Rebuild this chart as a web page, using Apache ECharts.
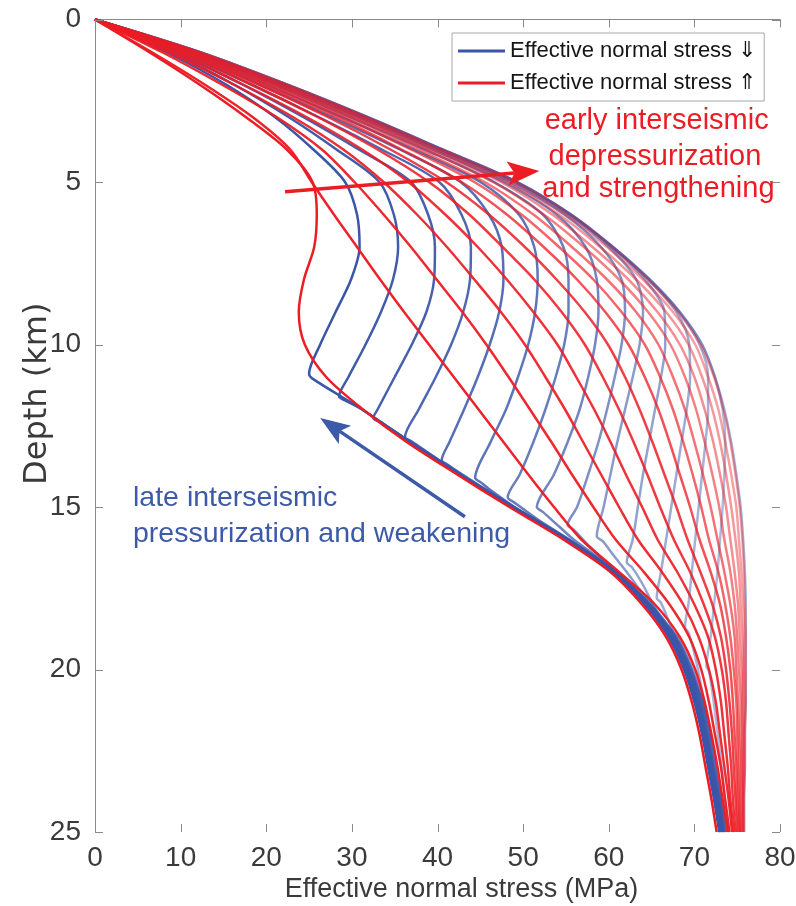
<!DOCTYPE html>
<html>
<head>
<meta charset="utf-8">
<script src="https://cdn.jsdelivr.net/npm/echarts/dist/echarts.min.js"></script>
<style>
  html, body { margin: 0; padding: 0; background: #ffffff; }
  #chart { width: 796px; height: 906px; }
</style>
</head>
<body>
<div id="chart"></div>
<script>
// Depth grid (km) shared by the envelope and the red profiles
const depthKm = [0,1,2,3,4,5,6,7,8,9,10,11,12,13,14,15,16,17,18,19,20,21,22,23,24,25];
const stressTicks = [0,10,20,30,40,50,60,70,80];
const depthTicks = [0,5,10,15,20,25];

// Fully drained profile (start of the pressurization sequence)
const envelope = [0,12.2,22.4,31.8,40.6,49.3,55.6,60.5,64.8,68.3,70.9,72.4,73.5,74.3,74.9,75.4,75.7,75.9,76.0,76.0,76.0,76.0,75.9,75.9,75.8,75.8];

// Effective normal stress increasing (early interseismic), stress in MPa at depthKm
const red01 = [0,6.3,12.2,17.6,22.4,25.4,25.9,25.6,24.4,23.8,24.5,27.0,31.3,36.4,42.3,48.4,54.7,60.2,63.9,66.7,68.5,69.7,70.6,71.3,72.0,72.6];
const red02 = [0,6.6,12.8,18.4,22.8,25.3,27.9,30.6,33.3,36.1,39.0,41.9,44.8,47.7,50.6,53.6,56.8,61.2,65.4,68.3,70.1,71.2,72.0,72.7,73.3,73.9];
const red03 = [0,7.8,14.8,21.2,26.5,30.3,33.7,36.9,39.9,42.9,45.7,48.3,50.8,53.3,55.7,58.2,60.8,64.1,67.1,69.4,70.8,71.7,72.4,73.1,73.6,74.1];
const red04 = [0,8.6,16.2,23.1,29.0,33.7,37.6,41.1,44.3,47.4,50.2,52.6,54.9,57.0,59.1,61.2,63.4,66.2,68.7,70.5,71.7,72.5,73.0,73.5,74.0,74.4];
const red05 = [0,9.2,17.3,24.7,31.2,36.6,40.9,44.7,48.1,51.2,54.0,56.2,58.3,60.2,62.0,63.9,65.7,68.0,70.0,71.6,72.5,73.1,73.5,73.9,74.2,74.6];
const red06 = [0,9.8,18.3,26.0,33.0,39.0,43.7,47.6,51.3,54.5,57.2,59.3,61.2,62.9,64.5,66.0,67.6,69.5,71.1,72.4,73.2,73.7,74.0,74.3,74.5,74.8];
const red07 = [0,10.3,19.1,27.2,34.5,41.0,46.0,50.2,53.9,57.2,59.9,61.9,63.6,65.1,66.5,67.9,69.2,70.7,72.1,73.1,73.7,74.1,74.4,74.6,74.8,75.0];
const red08 = [0,10.7,19.8,28.2,35.8,42.8,48.1,52.4,56.3,59.6,62.3,64.2,65.8,67.1,68.3,69.5,70.6,71.9,73.0,73.7,74.2,74.5,74.7,74.9,75.0,75.2];
const red09 = [0,11.0,20.4,29.0,36.9,44.3,49.8,54.2,58.2,61.5,64.2,66.0,67.5,68.7,69.8,70.8,71.7,72.8,73.6,74.2,74.6,74.9,75.0,75.1,75.2,75.3];
const red10 = [0,11.3,20.9,29.7,37.8,45.5,51.2,55.7,59.8,63.2,65.8,67.5,68.9,70.0,71.0,71.9,72.7,73.5,74.2,74.7,74.9,75.1,75.2,75.3,75.3,75.4];
const red11 = [0,11.6,21.3,30.3,38.6,46.5,52.4,57.1,61.2,64.6,67.2,68.9,70.2,71.2,72.1,72.9,73.5,74.2,74.7,75.0,75.2,75.4,75.4,75.5,75.5,75.5];
const red12 = [0,11.8,21.6,30.7,39.2,47.4,53.4,58.1,62.3,65.7,68.3,70.0,71.2,72.2,73.0,73.7,74.2,74.7,75.1,75.3,75.5,75.6,75.6,75.6,75.6,75.6];
const red13 = [0,11.9,21.9,31.1,39.7,48.1,54.2,59.0,63.2,66.7,69.3,70.9,72.1,73.0,73.7,74.3,74.8,75.2,75.4,75.6,75.7,75.7,75.7,75.7,75.7,75.7];
const red14 = [0,12.1,22.2,31.5,40.2,48.7,54.9,59.8,64.0,67.5,70.1,71.6,72.8,73.6,74.3,74.9,75.2,75.5,75.7,75.8,75.8,75.9,75.8,75.8,75.7,75.7];
const red15 = [0,12.2,22.4,31.7,40.5,49.2,55.5,60.4,64.6,68.1,70.7,72.3,73.4,74.2,74.8,75.3,75.6,75.8,75.9,76.0,76.0,76.0,75.9,75.9,75.8,75.8];

// Effective normal stress decreasing (late interseismic): [stress MPa, depth km]
const blue01 = [[0,0],[8.3,1],[15.3,2],[21.0,3],[25.5,4],[29.2,5],[30.6,6],[30.9,7],[29.9,8],[28.1,9],[26.3,10],[25.0,10.9],[25.4,11.05],[31.2,12],[36.8,13],[42.6,14],[48.7,15],[55.0,16],[60.4,17],[64.2,18],[67.0,19],[68.8,20],[70.0,21],[70.9,22],[71.6,23],[72.3,24],[72.9,25]];
const blue02 = [[0,0],[8.8,1],[16.2,2],[22.6,3],[28.2,4],[33.2,5],[34.9,6],[35.4,7],[34.8,8],[33.4,9],[31.6,10],[29.6,11],[28.5,11.6],[29.2,11.72],[31.2,12],[36.8,13],[42.6,14],[48.8,15],[55.1,16],[60.5,17],[64.3,18],[67.1,19],[68.9,20],[70.1,21],[71.0,22],[71.7,23],[72.4,24],[73.0,25]];
const blue03 = [[0,0],[9.3,1],[17.2,2],[24.3,3],[30.8,4],[36.9,5],[38.9,6],[39.7,7],[39.6,8],[38.7,9],[37.0,10],[35.0,11],[33.0,12],[32.5,12.26],[33.2,12.38],[36.9,13],[42.7,14],[48.8,15],[55.1,16],[60.6,17],[64.4,18],[67.2,19],[69.0,20],[70.2,21],[71.1,22],[71.8,23],[72.5,24],[73.0,25]];
const blue04 = [[0,0],[9.8,1],[18.2,2],[26.1,3],[33.5,4],[40.2,5],[42.8,6],[43.9,7],[43.8,8],[43.0,9],[41.6,10],[39.8,11],[37.8,12],[36.2,12.85],[36.9,12.97],[42.7,14],[48.9,15],[55.2,16],[60.6,17],[64.5,18],[67.3,19],[69.1,20],[70.3,21],[71.2,22],[71.8,23],[72.5,24],[73.1,25]];
const blue05 = [[0,0],[10.3,1],[19.2,2],[27.6,3],[35.6,4],[42.7,5],[46.0,6],[47.5,7],[47.7,8],[47.2,9],[46.1,10],[44.7,11],[43.1,12],[41.4,13],[40.5,13.55],[41.2,13.7],[42.9,14],[48.9,15],[55.2,16],[60.7,17],[64.6,18],[67.4,19],[69.2,20],[70.4,21],[71.3,22],[71.9,23],[72.6,24],[73.2,25]];
const blue06 = [[0,0],[10.8,1],[20.0,2],[28.8,3],[37.2,4],[45.0,5],[49.5,6],[51.3,7],[51.7,8],[51.4,9],[50.6,10],[49.4,11],[48.0,12],[46.2,13],[44.4,14.1],[45.1,14.25],[46.3,14.5],[49.0,15],[55.3,16],[60.8,17],[64.7,18],[67.5,19],[69.3,20],[70.5,21],[71.4,22],[72.0,23],[72.7,24],[73.3,25]];
const blue07 = [[0,0],[11.2,1],[20.8,2],[29.8,3],[38.5,4],[46.6,5],[52.3,6],[54.7,7],[55.3,8],[55.3,9],[54.8,10],[53.8,11],[52.6,12],[51.2,13],[49.6,14],[48.2,14.7],[48.9,14.85],[51.8,15.4],[55.4,16],[60.9,17],[64.7,18],[67.6,19],[69.4,20],[70.6,21],[71.4,22],[72.1,23],[72.8,24],[73.3,25]];
const blue08 = [[0,0],[11.5,1],[21.3,2],[30.6,3],[39.4,4],[47.7,5],[53.9,6],[57.3,7],[58.6,8],[58.8,9],[58.4,10],[57.6,11],[56.6,12],[55.2,13],[53.6,14],[51.6,15.0],[52.3,15.15],[54.2,15.6],[55.9,16],[61.0,17],[64.8,18],[67.7,19],[69.5,20],[70.7,21],[71.5,22],[72.2,23],[72.8,24],[73.4,25]];
const blue09 = [[0,0],[11.7,1],[21.7,2],[31.0,3],[39.9,4],[48.3,5],[54.8,6],[59.1,7],[61.5,8],[61.9,9],[61.5,10],[60.7,11],[59.8,12],[58.8,13],[57.6,14],[56.3,15],[55.2,15.55],[55.9,15.7],[57.7,16.2],[59.7,16.7],[61.6,17.2],[64.9,18],[67.8,19],[69.6,20],[70.8,21],[71.6,22],[72.2,23],[72.9,24],[73.5,25]];
const blue10 = [[0,0],[11.9,1],[22.0,2],[31.4,3],[40.2,4],[48.8,5],[55.2,6],[60.0,7],[63.2,8],[64.0,9],[63.6,10],[62.8,11],[61.9,12],[61.0,13],[60.2,14],[59.4,15],[58.6,15.9],[59.3,16.05],[60.6,16.5],[62.1,17.0],[63.5,17.5],[65.0,18],[67.9,19],[69.7,20],[70.9,21],[71.7,22],[72.3,23],[73.0,24],[73.5,25]];
const blue11 = [[0,0],[12.0,1],[22.2,2],[31.6,3],[40.4,4],[49.0,5],[55.4,6],[60.3,7],[64.2,8],[66.5,9],[66.6,10],[66.1,11],[65.4,12],[64.7,13],[64.0,14],[63.4,15],[62.8,16],[62.1,16.7],[62.7,16.85],[63.8,17.3],[65.0,17.9],[66.3,18.5],[68.0,19],[69.8,20],[71.0,21],[71.8,22],[72.4,23],[73.1,24],[73.6,25]];
const blue12 = [[0,0],[12.1,1],[22.3,2],[31.7,3],[40.5,4],[49.2,5],[55.5,6],[60.4,7],[64.6,8],[67.9,9],[69.4,10],[69.5,11],[69.1,12],[68.5,13],[67.9,14],[67.3,15],[66.7,16],[66.1,17],[65.6,17.8],[66.1,17.95],[67.0,18.5],[67.9,19.1],[68.9,19.7],[69.9,20.3],[71.0,21],[71.9,22],[72.5,23],[73.1,24],[73.7,25]];
const blue13 = [[0,0],[12.2,1],[22.4,2],[31.8,3],[40.6,4],[49.3,5],[55.6,6],[60.5,7],[64.7,8],[68.2,9],[70.6,10],[71.6,11],[71.6,12],[71.3,13],[70.9,14],[70.5,15],[70.1,16],[69.7,17],[69.3,18],[68.9,18.7],[69.3,18.85],[69.9,19.4],[70.5,20.1],[71.0,20.8],[71.6,21.6],[72.2,22.4],[72.7,23.2],[73.2,24.1],[73.7,25]];
const blue14 = [[0,0],[12.2,1],[22.4,2],[31.8,3],[40.6,4],[49.3,5],[55.6,6],[60.5,7],[64.8,8],[68.3,9],[70.9,10],[72.4,11],[73.3,12],[73.6,13],[73.5,14],[73.3,15],[73.0,16],[72.7,17],[72.3,18],[71.9,19],[71.4,19.9],[71.7,20.05],[72.1,20.7],[72.5,21.5],[72.9,22.4],[73.3,23.3],[73.6,24.2],[73.9,25]];

// Annotation anchors in data coordinates [stress, depth]
const redArrowFrom = [22.2, 5.3];
const redArrowTo = [51.9, 4.66];
const blueArrowFrom = [43.2, 15.3];
const blueArrowTo = [26.3, 12.26];

const NAME_DOWN = 'Effective normal stress \u21D3';
const NAME_UP = 'Effective normal stress \u21D1';

const FONT = '"Liberation Sans", Arial, Helvetica, sans-serif';
const BLUE = [59, 86, 168];
const RED = [236, 28, 36];
const rgba = (c, a) => `rgba(${c[0]},${c[1]},${c[2]},${a})`;

const chart = echarts.init(document.getElementById('chart'), null, { renderer: 'canvas' });

function profile(name, data, color, z) {
  return {
    type: 'line', name, data, xAxisIndex: 0, yAxisIndex: 0,
    symbol: 'none', showSymbol: false, smooth: 0.3, silent: true,
    lineStyle: { color, width: 2.5 }, itemStyle: { color },
    emphasis: { disabled: true }, z
  };
}
const onGrid = arr => depthKm.map((z, i) => [arr[i], z]);

const blueSet = [blue14, blue13, blue12, blue11, blue10, blue09, blue08, blue07, blue06, blue05, blue04, blue03, blue02, blue01];
const blueAlpha = [0.42, 0.46, 0.5, 0.55, 0.6, 0.66, 0.72, 0.77, 0.82, 0.86, 0.9, 0.94, 0.97, 1];
const redSet = [red15, red14, red13, red12, red11, red10, red09, red08, red07, red06, red05, red04, red03, red02, red01];
const redAlpha = [0.38, 0.42, 0.46, 0.5, 0.56, 0.62, 0.68, 0.76, 0.84, 0.87, 0.9, 0.92, 0.95, 0.97, 1];

const series = [profile('drained', onGrid(envelope), rgba(BLUE, 0.45), 2)];
blueSet.forEach((d, i) => {
  const last = i === blueSet.length - 1;
  series.push(profile(last ? NAME_DOWN : 'down-' + i, d, rgba(BLUE, blueAlpha[i]), 3));
});
redSet.forEach((d, i) => {
  const last = i === redSet.length - 1;
  series.push(profile(last ? NAME_UP : 'up-' + i, onGrid(d), rgba(RED, redAlpha[i]), 4));
});

const axisGray = '#8a8a8a';
const labelColor = '#3a3a3a';
const xRange = { type: 'value', min: stressTicks[0], max: stressTicks[stressTicks.length - 1], interval: 10 };
const yRange = { type: 'value', inverse: true, min: depthTicks[0], max: depthTicks[depthTicks.length - 1], interval: 5 };
// Box axes: line only, ticks are added inward below
const frame = pos => ({ position: pos, axisLine: { show: true, lineStyle: { color: axisGray, width: 1 } },
  axisTick: { show: false }, axisLabel: { show: false }, splitLine: { show: false } });

chart.setOption({
  animation: false,
  backgroundColor: '#ffffff',
  grid: { left: 95, right: 16, top: 19.5, bottom: 74, containLabel: false, outerBoundsMode: 'none' },
  legend: {
    data: [NAME_DOWN, NAME_UP],
    orient: 'vertical', left: 452, top: 33,
    icon: 'rect', itemWidth: 47, itemHeight: 3, itemGap: 6,
    padding: [5, 8, 5, 6],
    borderColor: '#a8a8a8', borderWidth: 1, borderRadius: 0, backgroundColor: '#ffffff',
    selectedMode: false,
    textStyle: { fontFamily: FONT, fontSize: 22, color: '#161616', lineHeight: 26 }
  },
  xAxis: [
    Object.assign({}, xRange, frame('bottom'), {
      name: 'Effective normal stress (MPa)', nameLocation: 'middle', nameGap: 44, nameMoveOverlap: false,
      nameTextStyle: { fontFamily: FONT, fontSize: 27, color: labelColor, padding: [0, 0, 0, 48] },
      axisLabel: { show: true, margin: 12, fontFamily: FONT, fontSize: 28, color: labelColor }
    }),
    Object.assign({}, xRange, frame('top'))
  ],
  yAxis: [
    Object.assign({}, yRange, frame('left'), {
      name: 'Depth (km)', nameLocation: 'middle', nameGap: 41, nameRotate: 90, nameMoveOverlap: false,
      nameTextStyle: { fontFamily: '"DejaVu Sans", sans-serif', fontSize: 32, color: labelColor, padding: [0, 0, 0, 64] },
      axisLabel: { show: true, margin: 14, fontFamily: FONT, fontSize: 28, color: labelColor }
    }),
    Object.assign({}, yRange, frame('right'))
  ],
  series
});

const toPx = p => chart.convertToPixel({ xAxisIndex: 0, yAxisIndex: 0 }, p);

// Inward tick marks on all four sides of the box, at the axis tick values
function boxTicks(len) {
  const els = [];
  const x0 = toPx([stressTicks[0], depthTicks[0]])[0], x1 = toPx([stressTicks[stressTicks.length - 1], depthTicks[0]])[0];
  const yTop = toPx([stressTicks[0], depthTicks[0]])[1], yBot = toPx([stressTicks[0], depthTicks[depthTicks.length - 1]])[1];
  const seg = (a, b, c, d) => ({ type: 'line', silent: true, z: 5,
    shape: { x1: a, y1: b, x2: c, y2: d }, style: { stroke: axisGray, lineWidth: 1 } });
  stressTicks.forEach(v => {
    const x = Math.round(toPx([v, 0])[0]) + 0.5;
    els.push(seg(x, yBot, x, yBot - len), seg(x, yTop, x, yTop + len));
  });
  depthTicks.forEach(v => {
    const y = Math.round(toPx([0, v])[1]) + 0.5;
    els.push(seg(x0, y, x0 + len, y), seg(x1, y, x1 - len, y));
  });
  return els;
}

// Arrows and captions, placed from data coordinates
function arrow(from, to, color, width, headLen, headHalf) {
  const a = toPx(from), b = toPx(to);
  const dx = b[0] - a[0], dy = b[1] - a[1], len = Math.hypot(dx, dy);
  const ux = dx / len, uy = dy / len, nx = -uy, ny = ux;
  const bx = b[0] - ux * headLen, by = b[1] - uy * headLen;
  const notchX = bx + ux * headLen * 0.22, notchY = by + uy * headLen * 0.22;
  return [
    { type: 'line', silent: true, z: 20,
      shape: { x1: a[0], y1: a[1], x2: notchX, y2: notchY },
      style: { stroke: color, lineWidth: width } },
    { type: 'polygon', silent: true, z: 20,
      shape: { points: [[b[0], b[1]], [bx + nx * headHalf, by + ny * headHalf], [notchX, notchY], [bx - nx * headHalf, by - ny * headHalf]] },
      style: { fill: color } }
  ];
}
function caption(text, at, color, size, align) {
  const p = toPx(at);
  return { type: 'text', silent: true, z: 20, x: p[0], y: p[1],
    style: { text, fill: color, font: `${size}px ${FONT}`, align, verticalAlign: 'middle' } };
}
const redText = '#ec1c24';
const blueText = '#3d5aa8';
chart.setOption({
  graphic: [
    ...boxTicks(8),
    ...arrow(redArrowFrom, redArrowTo, redText, 3.5, 32, 12),
    ...arrow(blueArrowFrom, blueArrowTo, blueText, 3.5, 30, 11),
    caption('early interseismic', [65.6, 3.12], redText, 29, 'center'),
    caption('depressurization', [65.4, 4.22], redText, 29, 'center'),
    caption('and strengthening', [65.8, 5.2], redText, 29, 'center'),
    caption('late interseismic', [4.44, 14.72], blueText, 28.5, 'left'),
    caption('pressurization and weakening', [4.44, 15.83], blueText, 28.5, 'left')
  ]
});
</script>
</body>
</html>
